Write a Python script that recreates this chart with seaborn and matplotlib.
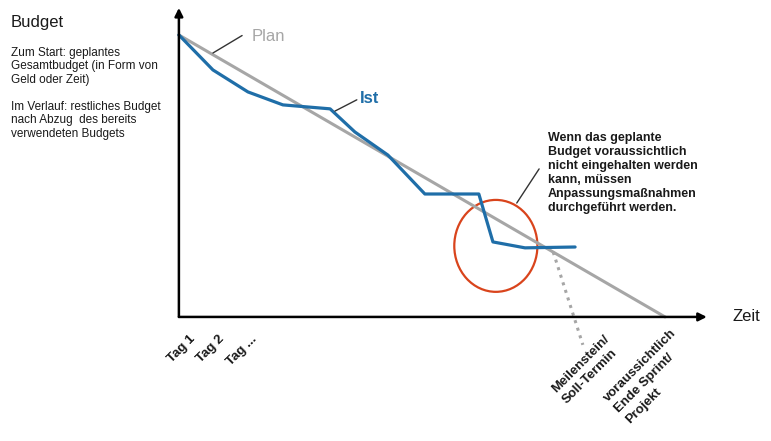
"""Burndown-style budget chart: plan vs. actual with annotation."""
import matplotlib
matplotlib.use("Agg")
import matplotlib.pyplot as plt
import numpy as np
import pandas as pd
import seaborn as sns
from matplotlib.patches import Ellipse

# Data (time and remaining budget in % of plan)
plan_x = [0, 100]
plan_y = [100, 0]
ist_x = [0, 7.0, 14.2, 21.4, 31.1, 36.2, 43.0, 50.6, 61.7, 64.6, 71.2, 81.5]
ist_y = [100, 87.6, 79.8, 75.2, 73.8, 65.6, 57.4, 43.6, 43.6, 26.6, 24.5, 24.8]
tag_labels = ["Tag 1", "Tag 2", "Tag ..."]
tag_pos = [2.1, 8.0, 14.8]
milestone_x = 77
milestone_label = "Meilenstein/\nSoll-Termin"
end_label = "voraussichtlich\nEnde Sprint/\nProjekt"

PLAN_C = "#a6a6a6"
IST_C = "#1f6ea8"
RED = "#d9441c"
TXT = "#1a1a1a"

sns.set_style("white")
plt.rcParams["font.family"] = ["Liberation Sans", "DejaVu Sans"]

fig = plt.figure(figsize=(7.71, 4.41), dpi=100)
ax = fig.add_axes([0, 0, 1, 1])
ax.set_xlim(-36.8, 121.8)
ax.set_ylim(-44.0, 112.4)
ax.axis("off")

df_plan = pd.DataFrame({"t": plan_x, "b": plan_y})
df_ist = pd.DataFrame({"t": ist_x, "b": ist_y})
sns.lineplot(data=df_plan, x="t", y="b", ax=ax, color=PLAN_C, lw=2.2, sort=False)
sns.lineplot(data=df_ist, x="t", y="b", ax=ax, color=IST_C, lw=2.3, sort=False)

# axes with arrows
arrow = dict(arrowstyle="-|>", lw=1.8, color="black", mutation_scale=12,
             shrinkA=0, shrinkB=0)
ax.annotate("", xy=(0, 109.6), xytext=(0, 0), arrowprops=arrow)
ax.annotate("", xy=(108.6, 0), xytext=(0, 0), arrowprops=arrow)

# milestone dotted line
ms_y = np.interp(milestone_x, plan_x, plan_y)
ax.plot([milestone_x, 83.1], [ms_y, -9.9], color=PLAN_C, lw=2.2, ls=(0, (1, 1.6)))

# labels for lines
ax.plot([7.0, 13.0], [93.6, 99.8], color="#333333", lw=1)
ax.text(15.0, 99.4, "Plan", color=PLAN_C, fontsize=12, va="center")
ax.plot([32.1, 36.6], [73.0, 77.0], color="#333333", lw=1)
ax.text(37.2, 77.3, "Ist", color=IST_C, fontsize=12, fontweight="bold", va="center")

# circle + annotation
ax.add_patch(Ellipse((65.2, 25.2), 17.1, 32.6, fill=False, ec=RED, lw=1.6))
ax.plot([69.5, 74.1], [40.4, 52.5], color="#333333", lw=1)
ax.text(75.9, 65.6,
        "Wenn das geplante\nBudget voraussichtlich\nnicht eingehalten werden\n"
        "kann, müssen\nAnpassungsmaßnahmen\ndurchgeführt werden.",
        fontsize=9, fontweight="bold", color=TXT, va="top", ha="left",
        linespacing=1.22)

# rotated x labels
for lab, x in zip(tag_labels, tag_pos):
    ax.text(x, -5.7, lab, rotation=45, rotation_mode="anchor", ha="right",
            va="top", fontsize=9.5, fontweight="bold", color=TXT)
ax.text(87.3, -5.7, milestone_label, rotation=45, rotation_mode="anchor",
        ha="right", va="top", fontsize=9.5, fontweight="bold", color=TXT,
        multialignment="left", linespacing=1.4)
ax.text(101.1, -3.6, end_label, rotation=45, rotation_mode="anchor",
        ha="right", va="top", fontsize=9.5, fontweight="bold", color=TXT,
        multialignment="left", linespacing=1.4)
ax.text(113.8, 0, "Zeit", fontsize=12, va="center", color=TXT)

# left side description
W, H = 771, 441
fig.text(11 / W, 1 - 23 / H, "Budget", fontsize=12, va="center", color=TXT)
fig.text(11 / W, 1 - 47 / H, "Zum Start: geplantes\nGesamtbudget (in Form von\nGeld oder Zeit)",
         fontsize=8.5, va="top", color=TXT, linespacing=1.16)
fig.text(11 / W, 1 - 101 / H, "Im Verlauf: restliches Budget\nnach Abzug  des bereits\nverwendeten Budgets",
         fontsize=8.5, va="top", color=TXT, linespacing=1.16)

fig.savefig("out.png", dpi=100)
